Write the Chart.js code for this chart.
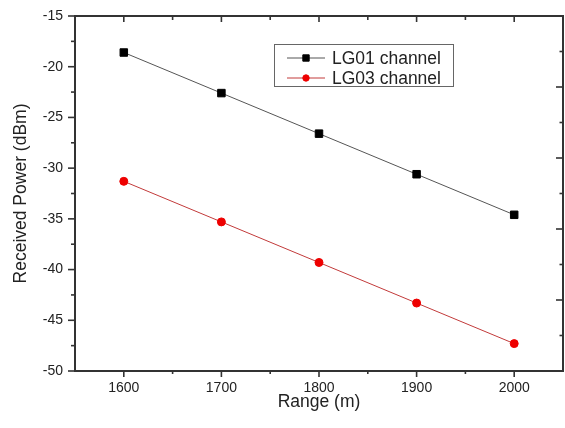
<!DOCTYPE html>
<html>
<head>
<meta charset="utf-8">
<script src="https://cdn.jsdelivr.net/npm/chart.js@4.4.0/dist/chart.umd.min.js"></script>
<style>
  html, body { margin: 0; padding: 0; background: #fff; }
  #wrap { width: 565px; height: 428px; }
</style>
</head>
<body>
<div id="wrap"><canvas id="chart" width="565" height="428"></canvas></div>
<script>
// data
const ranges = [1600, 1700, 1800, 1900, 2000];
const lg01Power = [-18.6, -22.6, -26.6, -30.6, -34.6];
const lg03Power = [-31.3, -35.3, -39.3, -43.3, -47.3];
const seriesNames = ["LG01 channel", "LG03 channel"];

// ticks
const xTicks = [1600, 1700, 1800, 1900, 2000];
const xMinorTicks = [1650, 1750, 1850, 1950];
const yTicks = [-50, -45, -40, -35, -30, -25, -20, -15];
const yMinorTicks = [-47.5, -42.5, -37.5, -32.5, -27.5, -22.5, -17.5];
const rightTicks = [-43, -36, -29, -22];
const rightMinorTicks = [-46.5, -39.5, -32.5, -25.5, -18.5];

const FONT = "'Liberation Sans', Arial, sans-serif";
const AXIS = "#333";

const frameTicks = {
  id: "frameTicks",
  afterDraw(chart) {
    const { ctx, chartArea: a, scales } = chart;
    const x = scales.x, y = scales.y;
    ctx.save();
    ctx.strokeStyle = AXIS;
    ctx.lineWidth = 2;
    ctx.strokeRect(a.left, a.top, a.right - a.left, a.bottom - a.top);

    function vtick(px, y0, len) {
      ctx.beginPath(); ctx.moveTo(px, y0); ctx.lineTo(px, y0 + len); ctx.stroke();
    }
    function htick(py, x0, len) {
      ctx.beginPath(); ctx.moveTo(x0, py); ctx.lineTo(x0 + len, py); ctx.stroke();
    }
    ctx.lineWidth = 1.6;
    // bottom (outward) and top (inward)
    xTicks.forEach(v => { const p = x.getPixelForValue(v); vtick(p, a.bottom, 6); vtick(p, a.top, 6); });
    xMinorTicks.forEach(v => { const p = x.getPixelForValue(v); vtick(p, a.bottom, 3); vtick(p, a.top, 4); });
    // left (outward)
    yTicks.forEach(v => htick(y.getPixelForValue(v), a.left, -7));
    yMinorTicks.forEach(v => htick(y.getPixelForValue(v), a.left, -4));
    // right (inward)
    rightTicks.forEach(v => htick(y.getPixelForValue(v), a.right, -7));
    rightMinorTicks.forEach(v => htick(y.getPixelForValue(v), a.right, -3.5));
    ctx.restore();
  }
};

const boxLegend = {
  id: "boxLegend",
  afterDraw(chart) {
    const ctx = chart.ctx;
    const bx = 274, by = 44, bw = 179, bh = 42;
    ctx.save();
    ctx.fillStyle = "#fff";
    ctx.fillRect(bx, by, bw, bh);
    ctx.strokeStyle = "#666";
    ctx.lineWidth = 1;
    ctx.strokeRect(bx + 0.5, by + 0.5, bw, bh);
    chart.data.datasets.forEach((ds, i) => {
      const cy = by + 14 + i * 20;
      ctx.strokeStyle = ds.borderColor;
      ctx.lineWidth = 1;
      ctx.beginPath(); ctx.moveTo(287, cy); ctx.lineTo(325, cy); ctx.stroke();
      ctx.fillStyle = ds.pointBackgroundColor;
      ctx.strokeStyle = ds.pointBorderColor;
      ctx.lineWidth = ds.pointBorderWidth;
      Chart.helpers.drawPoint(ctx, {
        pointStyle: ds.pointStyle, radius: ds.pointRadius - 0.8, rotation: 0, borderWidth: ds.pointBorderWidth
      }, 306, cy);
      ctx.fillStyle = "#222";
      ctx.font = "17.5px " + FONT;
      ctx.textBaseline = "middle";
      ctx.fillText(ds.label, 332, cy + 1);
    });
    ctx.restore();
  }
};

new Chart(document.getElementById("chart"), {
  type: "line",
  data: {
    datasets: [
      {
        label: seriesNames[0],
        data: ranges.map((r, i) => ({ x: r, y: lg01Power[i] })),
        borderColor: "#555",
        borderWidth: 1,
        pointStyle: "rect",
        pointRadius: 5.3,
        pointBackgroundColor: "#000",
        pointBorderColor: "#000",
        pointBorderWidth: 1
      },
      {
        label: seriesNames[1],
        data: ranges.map((r, i) => ({ x: r, y: lg03Power[i] })),
        borderColor: "#c23a3a",
        borderWidth: 1,
        pointStyle: "circle",
        pointRadius: 4,
        pointBackgroundColor: "#ee0000",
        pointBorderColor: "#ee0000",
        pointBorderWidth: 1
      }
    ]
  },
  options: {
    responsive: false,
    animation: false,
    layout: { autoPadding: false, padding: { top: 16, right: 2, left: 0, bottom: 0 } },
    plugins: { legend: { display: false }, tooltip: { enabled: false } },
    scales: {
      x: {
        type: "linear",
        min: 1550,
        max: 2050,
        grid: { display: false, drawTicks: false },
        border: { display: false },
        afterBuildTicks: s => { s.ticks = xTicks.map(v => ({ value: v })); },
        afterFit: s => { s.height = 57; s.paddingLeft = 0; s.paddingRight = 0; },
        ticks: { padding: 9, color: "#222", font: { family: FONT, size: 14 }, callback: v => String(v) },
        title: {
          display: true, text: "Range (m)", color: "#222",
          font: { family: FONT, size: 17.5 }, padding: { top: 0, bottom: 15 }
        }
      },
      y: {
        min: -50,
        max: -15,
        grid: { display: false, drawTicks: false },
        border: { display: false },
        afterBuildTicks: s => { s.ticks = yTicks.map(v => ({ value: v })); },
        afterFit: s => { s.width = 75; s.paddingTop = 0; s.paddingBottom = 0; },
        ticks: { padding: 12, color: "#222", font: { family: FONT, size: 14 }, callback: v => String(v) },
        title: {
          display: true, text: "Received Power (dBm)", color: "#222",
          font: { family: FONT, size: 17.5 }, padding: { top: 11, bottom: 0 }
        }
      }
    }
  },
  plugins: [frameTicks, boxLegend]
});
</script>
</body>
</html>
